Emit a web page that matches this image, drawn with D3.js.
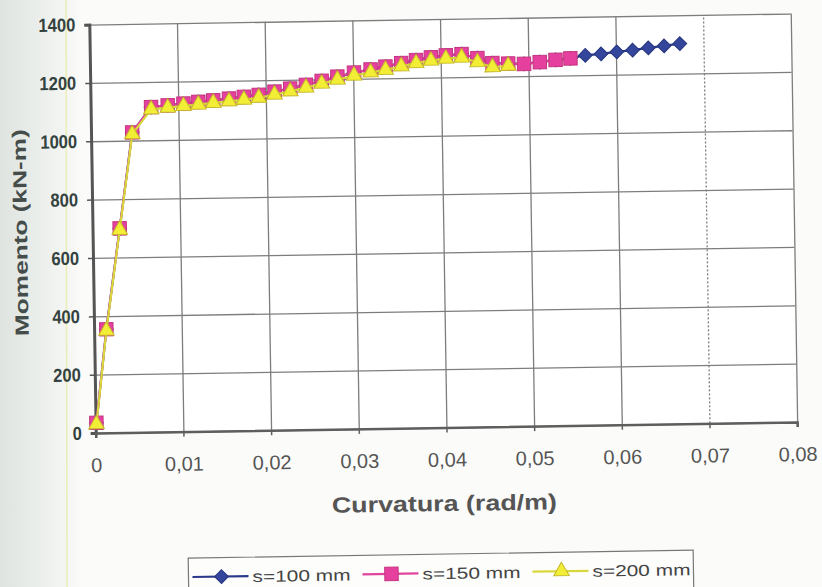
<!DOCTYPE html>
<html>
<head>
<meta charset="utf-8">
<script src="https://cdn.jsdelivr.net/npm/d3@7"></script>
<style>
  body { margin: 0; background: #fbfbf9; }
  svg { display: block; font-family: "Liberation Sans", Arial, sans-serif; }
</style>
</head>
<body>
<div id="chart"></div>
<script>
// Tick values and labels
const xTicks = [0, 0.01, 0.02, 0.03, 0.04, 0.05, 0.06, 0.07, 0.08];
const xTickLabels = ["0", "0,01", "0,02", "0,03", "0,04", "0,05", "0,06", "0,07", "0,08"];
const yTicks = [0, 200, 400, 600, 800, 1000, 1200, 1400];

// s=200 mm (yellow triangles)
const curv200 = [0.0001, 0.0014, 0.0031, 0.0047, 0.0069, 0.0088, 0.0106, 0.0123, 0.0140, 0.0158,
  0.0175, 0.0192, 0.0210, 0.0228, 0.0246, 0.0264, 0.0282, 0.0301, 0.0320, 0.0337,
  0.0355, 0.0372, 0.0389, 0.0406, 0.0424, 0.0442, 0.0459, 0.0477];
const mom200 = [30, 350, 695, 1022, 1106, 1111, 1116, 1120, 1125, 1129,
  1134, 1140, 1150, 1160, 1172, 1185, 1198, 1211, 1221, 1229,
  1240, 1250, 1258, 1264, 1267, 1250, 1232, 1236];

// s=150 mm (pink squares)
const curv150 = [0.0001, 0.0014, 0.0031, 0.0047, 0.0069, 0.0088, 0.0106, 0.0123, 0.0140, 0.0158,
  0.0175, 0.0192, 0.0210, 0.0228, 0.0246, 0.0264, 0.0282, 0.0301, 0.0320, 0.0337,
  0.0355, 0.0372, 0.0389, 0.0406, 0.0424, 0.0442, 0.0459, 0.0477, 0.0495, 0.0513,
  0.0531, 0.0548];
const mom150 = [35, 355, 700, 1028, 1114, 1119, 1124, 1129, 1134, 1139,
  1144, 1150, 1160, 1170, 1182, 1195, 1208, 1221, 1231, 1240,
  1251, 1261, 1269, 1275, 1279, 1264, 1246, 1244, 1242, 1247,
  1254, 1258];

// s=100 mm (blue diamonds)
const curv100 = [0.0001, 0.0014, 0.0031, 0.0047, 0.0069, 0.0088, 0.0106, 0.0123, 0.0140, 0.0158,
  0.0175, 0.0192, 0.0210, 0.0228, 0.0246, 0.0264, 0.0282, 0.0301, 0.0320, 0.0337,
  0.0355, 0.0372, 0.0389, 0.0406, 0.0424, 0.0442, 0.0459, 0.0477, 0.0495, 0.0513,
  0.0531, 0.0548, 0.0565, 0.0583, 0.0601, 0.0619, 0.0637, 0.0655, 0.0673];
const mom100 = [35, 355, 700, 1028, 1114, 1119, 1124, 1129, 1134, 1139,
  1144, 1150, 1160, 1170, 1182, 1195, 1208, 1221, 1231, 1240,
  1251, 1261, 1269, 1275, 1279, 1264, 1246, 1244, 1242, 1247,
  1254, 1258, 1268, 1272, 1278, 1283, 1290, 1296, 1303];

const seriesNames = ["s=100 mm", "s=150 mm", "s=200 mm"];

(function(){
  const W = 822, H = 587;
  const L = 92.5, R = 794, T = 19, B = 427.5;

  const svg = d3.select("#chart").append("svg")
    .attr("width", W).attr("height", H);

  // scanned-paper look on the left
  const grad = svg.append("defs").append("linearGradient")
    .attr("id", "paper").attr("x1", 0).attr("x2", 1).attr("y1", 0).attr("y2", 0);
  grad.append("stop").attr("offset", 0).attr("stop-color", "#dfe4e1");
  grad.append("stop").attr("offset", 0.06).attr("stop-color", "#eef1ee");
  grad.append("stop").attr("offset", 0.1).attr("stop-color", "#fbfbf9");
  grad.append("stop").attr("offset", 1).attr("stop-color", "#fbfbf9");
  svg.append("rect").attr("width", W).attr("height", H).attr("fill", "url(#paper)");
  svg.append("line").attr("x1", 66).attr("x2", 67).attr("y1", 0).attr("y2", H)
    .attr("stroke", "#e8eaa0").attr("stroke-width", 1.5).attr("opacity", 0.7);

  const g = svg.append("g").attr("transform", "rotate(-0.9 445 225)");

  const x = d3.scaleLinear().domain([0, 0.08]).range([L, R]);
  const y = d3.scaleLinear().domain([0, 1400]).range([B, T]);

  g.append("rect").attr("x", L).attr("y", T).attr("width", R - L).attr("height", B - T)
    .attr("fill", "#ffffff");

  // Gridlines
  const gy = g.append("g").attr("transform", `translate(${L},0)`)
    .call(d3.axisLeft(y).tickValues(yTicks).tickSize(-(R - L)).tickFormat(""));
  gy.select(".domain").remove();
  gy.selectAll("line").attr("stroke", "#7d7d7d").attr("stroke-width", 1.3);

  const gx = g.append("g").attr("transform", `translate(0,${B})`)
    .call(d3.axisBottom(x).tickValues(xTicks).tickSize(-(B - T)).tickFormat(""));
  gx.select(".domain").remove();
  gx.selectAll("line").attr("stroke", "#7d7d7d").attr("stroke-width", 1.3)
    .attr("stroke-dasharray", d => d === 0.07 ? "2,2" : null);

  // Axes
  const ay = g.append("g").attr("transform", `translate(${L},0)`)
    .call(d3.axisLeft(y).tickValues(yTicks).tickSize(5).tickPadding(9)
      .tickFormat(d => String(d)));
  ay.select(".domain").attr("stroke", "#555").attr("stroke-width", 3);
  ay.selectAll("line").attr("stroke", "#555").attr("stroke-width", 1.5);
  ay.selectAll("text")
    .attr("font-size", 19).attr("font-weight", "bold").attr("fill", "#34423f")
    .attr("textLength", d => String(d).length * 9.2)
    .attr("lengthAdjust", "spacingAndGlyphs");

  const ax = g.append("g").attr("transform", `translate(0,${B})`)
    .call(d3.axisBottom(x).tickValues(xTicks).tickSize(5)
      .tickFormat((d, i) => xTickLabels[i]).tickPadding(20));
  ax.select(".domain").attr("stroke", "#5e5e5e").attr("stroke-width", 2.5);
  ax.selectAll("line").attr("stroke", "#5e5e5e").attr("stroke-width", 1.5);
  ax.selectAll("text").attr("font-size", 20).attr("fill", "#555");

  // Axis titles
  g.append("text")
    .attr("x", 440).attr("y", 511)
    .attr("text-anchor", "middle")
    .attr("font-size", 22).attr("font-weight", "bold").attr("fill", "#555")
    .attr("textLength", 225).attr("lengthAdjust", "spacingAndGlyphs")
    .text("Curvatura (rad/m)");

  g.append("text")
    .attr("transform", "translate(27,226) rotate(-90)")
    .attr("text-anchor", "middle")
    .attr("font-size", 19).attr("font-weight", "bold").attr("fill", "#454d4b")
    .attr("textLength", 207).attr("lengthAdjust", "spacingAndGlyphs")
    .text("Momento (kN-m)");

  // Series
  const series = [
    { name: seriesNames[0], curv: curv100, mom: mom100, line: "#2c3a8c", fill: "#34469c", stroke: "#26357e",
      sym: d3.symbol(d3.symbolSquare, 95), rot: 45 },
    { name: seriesNames[1], curv: curv150, mom: mom150, line: "#e0459e", fill: "#e6409f", stroke: "#c4357f",
      sym: d3.symbol(d3.symbolSquare, 180), rot: 0 },
    { name: seriesNames[2], curv: curv200, mom: mom200, line: "#d8d83c", fill: "#f2ee36", stroke: "#c6b82a",
      sym: d3.symbol(d3.symbolTriangle, 105), rot: 0 }
  ];

  const line = d3.line().x(d => x(d[0])).y(d => y(d[1]));

  series.forEach(s => {
    const pts = s.curv.map((c, i) => [c, s.mom[i]]);
    g.append("path").datum(pts)
      .attr("d", line)
      .attr("fill", "none")
      .attr("stroke", s.line)
      .attr("stroke-width", 2.2);
    g.append("g").selectAll("path")
      .data(pts)
      .join("path")
      .attr("d", s.sym)
      .attr("transform", d => `translate(${x(d[0])},${y(d[1])}) rotate(${s.rot})`)
      .attr("fill", s.fill)
      .attr("stroke", s.stroke)
      .attr("stroke-width", 1);
  });

  // Legend
  const lg = g.append("g").attr("transform", "translate(183,554)");
  lg.append("rect").attr("width", 505).attr("height", 38)
    .attr("fill", "#fdfdfc").attr("stroke", "#777").attr("stroke-width", 1.2);
  const itemX = [4, 174, 344];
  series.forEach((s, i) => {
    const it = lg.append("g").attr("transform", `translate(${itemX[i]},19)`);
    it.append("line").attr("x1", 0).attr("x2", 56).attr("y1", 0).attr("y2", 0)
      .attr("stroke", s.line).attr("stroke-width", 2.2);
    it.append("path").attr("d", s.sym)
      .attr("transform", `translate(29,0) rotate(${s.rot})`)
      .attr("fill", s.fill).attr("stroke", s.stroke);
    it.append("text").attr("x", 60).attr("y", 6)
      .attr("font-size", 16).attr("fill", "#444")
      .attr("textLength", 98).attr("lengthAdjust", "spacingAndGlyphs")
      .text(s.name);
  });
})();
</script>
</body>
</html>
